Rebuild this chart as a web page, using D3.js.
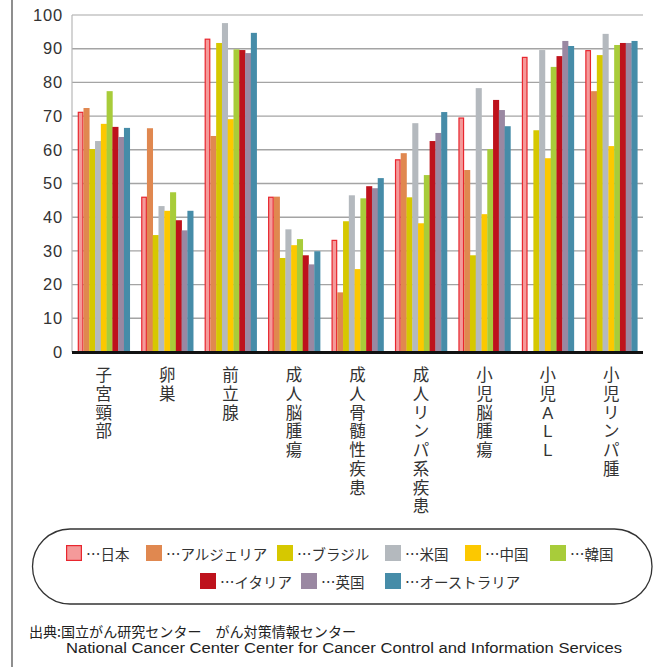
<!DOCTYPE html>
<html><head><meta charset="utf-8">
<script src="https://cdn.jsdelivr.net/npm/d3@7"></script>
<style>
html,body{margin:0;padding:0;background:#fff;}
svg{display:block;}
</style></head>
<body>
<svg id="chart" width="664" height="670"></svg>
<script>
const categories = ["子宮頸部","卵巣","前立腺","成人脳腫瘍","成人骨髄性疾患","成人リンパ系疾患","小児脳腫瘍","小児ALL","小児リンパ腫"];
const seriesNames = ["日本","アルジェリア","ブラジル","米国","中国","韓国","イタリア","英国","オーストラリア"];
const seriesColors = ["#f49a9a","#e08850","#d6c800","#b4b9be","#fcc800","#a8cc3a","#be121c","#9a88a2","#468ca8"];
const japan      = [71.3,46.1,93.0,46.1,33.3,57.2,69.6,87.6,89.6];
const algeria    = [72.4,66.4,64.1,46.1,17.7,59.0,54.0,null,77.4];
const brazil     = [60.2,34.7,91.7,27.9,38.8,45.9,28.7,65.8,88.1];
const usa        = [62.6,43.3,97.6,36.4,46.5,67.9,78.3,89.6,94.4];
const china      = [67.7,41.9,69.1,31.7,24.6,38.2,40.9,57.5,61.1];
const korea      = [77.4,47.4,89.8,33.5,45.6,52.5,60.2,84.6,91.1];
const italy      = [66.8,39.1,89.6,28.7,49.2,62.6,74.8,87.8,91.7];
const uk         = [63.8,36.1,88.7,26.0,48.6,65.0,71.8,92.3,91.7];
const australia  = [66.5,41.9,94.7,29.9,51.6,71.2,67.0,90.8,92.3];
const yTicks = [0,10,20,30,40,50,60,70,80,90,100];
const sourceLines = ["出典:国立がん研究センター　がん対策情報センター","National Cancer Center Center for Cancer Control and Information Services"];

const seriesValues = [japan,algeria,brazil,usa,china,korea,italy,uk,australia];

const svg = d3.select("#chart");
const jpFont = "'Noto Sans CJK JP','Noto Sans',sans-serif";
const labelFont = "'Liberation Sans','Noto Sans CJK JP',sans-serif";

// outer left rule
svg.append("line").attr("x1",12).attr("x2",12).attr("y1",0).attr("y2",667)
  .attr("stroke","#444").attr("stroke-width",1.2);

const x0 = d3.scaleBand().domain(categories).range([72,643]).paddingInner(0.18).paddingOuter(0.09);
const x1 = d3.scaleBand().domain(seriesNames).range([0,x0.bandwidth()]);
const y = d3.scaleLinear().domain([0,100]).range([352,15]);

// grid
svg.append("g").selectAll("line").data(yTicks.filter(d=>d>0)).join("line")
  .attr("x1",72).attr("x2",643).attr("y1",d=>y(d)).attr("y2",d=>y(d))
  .attr("stroke",d=>d===100?"#c4c4c4":"#a4a4a4").attr("stroke-width",1.4);
svg.append("line").attr("x1",72).attr("x2",72).attr("y1",y(100)).attr("y2",y(0))
  .attr("stroke","#b8b8b8").attr("stroke-width",1.2);

// y axis labels
const yAxis = d3.axisLeft(y).tickValues(yTicks).tickSize(0).tickPadding(9);
const gy = svg.append("g").attr("transform","translate(72,0)").call(yAxis);
gy.select(".domain").remove();
gy.selectAll("text").attr("font-family","'Liberation Sans',Arial,sans-serif")
  .attr("font-size",16.5).attr("fill","#333").attr("letter-spacing","0.8px");

// bars
const groups = svg.append("g").selectAll("g").data(categories).join("g")
  .attr("transform",d=>`translate(${x0(d)},0)`);
groups.selectAll("rect").data((c,ci)=>seriesNames.map((s,si)=>({s,si,v:seriesValues[si][ci]})).filter(d=>d.v!=null))
  .join("rect")
  .attr("x",d=>x1(d.s)+(d.si===0?0.6:0))
  .attr("y",d=>y(d.v)+(d.si===0?0.6:0))
  .attr("width",d=>x1.bandwidth()+(d.si===0?-1.2:0.3))
  .attr("height",d=>y(0)-y(d.v)-(d.si===0?0.6:0))
  .attr("fill",d=>seriesColors[d.si])
  .attr("stroke",d=>d.si===0?"#e8262e":"none")
  .attr("stroke-width",1.2);

// baseline
svg.append("line").attr("x1",72).attr("x2",643).attr("y1",y(0)+0.5).attr("y2",y(0)+0.5)
  .attr("stroke","#111").attr("stroke-width",3);

// category labels (vertical, char by char)
const catG = svg.append("g");
categories.forEach(c=>{
  const cx = x0(c)+x0.bandwidth()/2;
  Array.from(c).forEach((ch,i)=>{
    catG.append("text").attr("x",cx).attr("y",381+i*18.75)
      .attr("text-anchor","middle")
      .attr("font-family",labelFont).attr("font-size",16.5).attr("fill","#333").text(ch);
  });
});

// legend
svg.append("rect").attr("x",32.5).attr("y",529).attr("width",619.5).attr("height",75)
  .attr("rx",37.5).attr("ry",37.5).attr("fill","none").attr("stroke","#333").attr("stroke-width",1.3);
const legendPos = [[66,553],[146,553],[277,553],[385,553],[465,553],[550,553],[200,581],[301,581],[385,581]];
seriesNames.forEach((s,i)=>{
  const [lx,ly] = legendPos[i];
  const g = svg.append("g");
  if(i===0){
    g.append("rect").attr("x",lx+0.6).attr("y",ly-7.4).attr("width",14.8).attr("height",14.8)
      .attr("fill",seriesColors[0]).attr("stroke","#e8262e").attr("stroke-width",1.2);
  } else {
    g.append("rect").attr("x",lx).attr("y",ly-8).attr("width",16).attr("height",16).attr("fill",seriesColors[i]);
  }
  g.append("text").attr("x",lx+20).attr("y",ly).attr("dominant-baseline","central")
    .attr("font-family",jpFont).attr("font-size",14.5).attr("fill","#333").text("…"+s);
});

// source
svg.append("text").attr("x",29).attr("y",631).attr("dominant-baseline","central")
  .attr("font-family",jpFont).attr("font-size",14).attr("fill","#222")
  .attr("textLength",327).attr("lengthAdjust","spacingAndGlyphs").text(sourceLines[0]);
svg.append("text").attr("x",66).attr("y",648).attr("dominant-baseline","central")
  .attr("font-family","'Liberation Sans',Arial,sans-serif").attr("font-size",14).attr("fill","#222")
  .attr("textLength",556).attr("lengthAdjust","spacingAndGlyphs").text(sourceLines[1]);
</script>
</body></html>
